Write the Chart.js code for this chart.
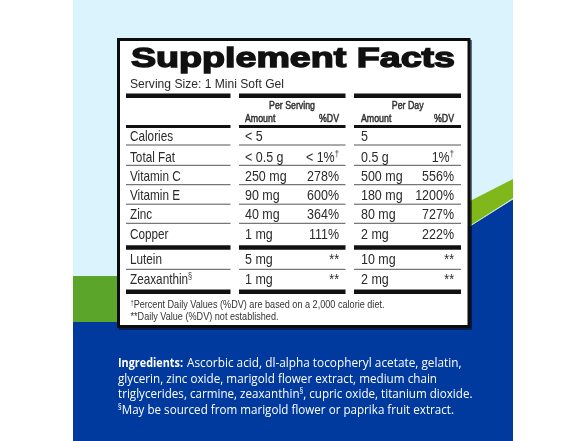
<!DOCTYPE html>
<html lang="en">
<head>
  <meta charset="UTF-8">
  <title>Supplement Facts</title>
  <script src="https://cdn.jsdelivr.net/npm/chart.js"></script>
  <style>
    html, body { margin: 0; padding: 0; background: #fff; }
    canvas { display: block; }
  </style>
</head>
<body>
<canvas id="facts" width="588" height="441"></canvas>

<script>
// table content, {x} marks a superscript
const title = 'Supplement Facts';
const servingSize = 'Serving Size: 1 Mini Soft Gel';
const groupLabels = ['Per Serving', 'Per Day'];
const columnLabels = ['Amount', '%DV'];
const nutrients = ['Calories', 'Total Fat', 'Vitamin C', 'Vitamin E', 'Zinc', 'Copper', 'Lutein', 'Zeaxanthin{§}'];
const servingAmount = ['< 5', '< 0.5 g', '250 mg', '90 mg', '40 mg', '1 mg', '5 mg', '1 mg'];
const servingDV = ['', '< 1%{†}', '278%', '600%', '364%', '111%', '**', '**'];
const dayAmount = ['5', '0.5 g', '500 mg', '180 mg', '80 mg', '2 mg', '10 mg', '2 mg'];
const dayDV = ['', '1%{†}', '556%', '1200%', '727%', '222%', '**', '**'];
const footnotes = ['{†}Percent Daily Values (%DV) are based on a 2,000 calorie diet.', '**Daily Value (%DV) not established.'];
const ingredientsHead = 'Ingredients:';
const ingredients = [
  'Ascorbic acid, dl-alpha tocopheryl acetate, gelatin,',
  'glycerin, zinc oxide, marigold flower extract, medium chain',
  'triglycerides, carmine, zeaxanthin{§}, cupric oxide, titanium dioxide.',
  '{§}May be sourced from marigold flower or paprika fruit extract.'
];

// layout, in picture pixels
const rowBase = [141, 161.5, 180.7, 200, 219, 238.5, 264, 284];
const columns = [[126, 230.5], [239, 345.5], [354, 461]];
const ruleY = [95.7, 126.5, 145, 165.3, 184.7, 204.2, 223.3, 247.5, 269.3, 291.7];
const ruleW = [4.6, 3, 1, 1, 1, 1, 1, 4.6, 1, 4.6];
const footBase = [308, 320];
const footWidth = [254, 148];
const ingBase = [367, 382.7, 398, 414];
const ingRight = [461.5, 437, 472.5, 454];

const lightBlue = '#daf3fc', navy = '#003a9e', leftGreen = '#5aa52a', rightGreen = '#80b81c';

// one horizontal line per rule and column
const ruleSets = [];
ruleY.forEach((y, i) => columns.forEach(c => ruleSets.push({
  data: [{ x: c[0], y: y }, { x: c[1], y: y }],
  showLine: true, pointRadius: 0, borderWidth: ruleW[i],
  borderColor: ruleW[i] > 2 ? '#111' : '#555'
})));

function rich(ctx, str, px, py, o) {
  const parts = str.split(/(\{[^}]*\})/).filter(s => s !== '');
  const font = (s, sup) => `${o.weight || 400} ${sup ? s * 0.62 : s}px ${o.family || '"Liberation Sans"'}`;
  const runs = parts.map(p => {
    const sup = p[0] === '{';
    const t = sup ? p.slice(1, -1) : p;
    ctx.font = font(o.size, sup);
    return { t, sup, w: ctx.measureText(t).width };
  });
  const total = runs.reduce((a, r) => a + r.w, 0);
  const sx = o.width ? o.width / total : (o.sx || 1);
  ctx.save();
  ctx.translate(px, py);
  ctx.scale(sx, 1);
  ctx.fillStyle = o.color || '#2a2a2a';
  ctx.textAlign = 'left';
  ctx.textBaseline = 'alphabetic';
  let x = o.align === 'right' ? -total : o.align === 'center' ? -total / 2 : 0;
  runs.forEach(r => {
    ctx.font = font(o.size, r.sup);
    ctx.fillText(r.t, x, r.sup ? -o.size * 0.33 : 0);
    if (o.stroke) {
      ctx.strokeStyle = ctx.fillStyle;
      ctx.lineWidth = o.stroke;
      ctx.strokeText(r.t, x, r.sup ? -o.size * 0.33 : 0);
    }
    x += r.w;
  });
  ctx.restore();
}

const panelPlugin = {
  id: 'panel',
  beforeDatasetsDraw(chart) {
    const { ctx, scales: { x, y } } = chart;
    const poly = (pts, color) => {
      ctx.fillStyle = color;
      ctx.beginPath();
      pts.forEach((p, i) => i ? ctx.lineTo(x.getPixelForValue(p[0]), y.getPixelForValue(p[1])) : ctx.moveTo(x.getPixelForValue(p[0]), y.getPixelForValue(p[1])));
      ctx.closePath();
      ctx.fill();
    };
    poly([[73, 0], [513, 0], [513, 441], [73, 441]], lightBlue);
    poly([[73, 322], [117, 322], [470, 226], [513, 199], [513, 441], [73, 441]], navy);
    poly([[73, 276], [117, 276], [117, 322], [73, 322]], leftGreen);
    poly([[470, 201], [513, 179], [513, 198], [470, 226]], rightGreen);
    poly([[470, 226.5], [513, 199.5], [513, 198.5], [470, 225.5]], '#d5ecd0');
    poly([[470, 227], [513, 200], [513, 441], [470, 441]], navy);
    poly([[119, 40], [472, 40], [472, 330], [119, 330]], 'rgba(0,0,20,0.55)');
    poly([[117, 38], [470.5, 38], [470.5, 328], [117, 328]], '#0c0c0c');
    poly([[120, 41], [467.5, 41], [467.5, 325], [120, 325]], '#fff');
  },
  afterDatasetsDraw(chart) {
    const { ctx, scales: { x, y } } = chart;
    const put = (s, px, py, o) => rich(ctx, s, x.getPixelForValue(px), y.getPixelForValue(py), o);
    const name = { size: 14.5, sx: 0.81 };
    const value = { size: 14.5, sx: 0.86 };

    put(title, 131, 67, { size: 28, weight: 700, width: 324, color: '#111', stroke: 1.4 });
    put(servingSize, 130, 88, { size: 12.5, width: 154 });

    const head = { size: 11, sx: 0.8, color: '#333', stroke: 0.5 };
    put(groupLabels[0], 292, 109, { ...head, align: 'center' });
    put(groupLabels[1], 407.7, 109, { ...head, align: 'center' });
    put(columnLabels[0], 245, 121.5, head);
    put(columnLabels[1], 339, 121.5, { ...head, align: 'right' });
    put(columnLabels[0], 361, 121.5, head);
    put(columnLabels[1], 454, 121.5, { ...head, align: 'right' });

    nutrients.forEach((n, i) => {
      put(n, 130, rowBase[i], name);
      put(servingAmount[i], 245, rowBase[i], value);
      put(servingDV[i], 339, rowBase[i], { ...value, align: 'right' });
      put(dayAmount[i], 361, rowBase[i], value);
      put(dayDV[i], 454, rowBase[i], { ...value, align: 'right' });
    });

    footnotes.forEach((f, i) => put(f, 130.5, footBase[i], { size: 10.5, width: footWidth[i], color: '#333' }));

    const ing = { family: '"Open Sans"', size: 13, color: '#fff' };
    put(ingredientsHead, 118, ingBase[0], { ...ing, weight: 700, width: 65 });
    ingredients.forEach((l, i) => {
      const left = i === 0 ? 187 : 118;
      put(l, left, ingBase[i], { ...ing, width: ingRight[i] - left });
    });
  }
};

new Chart(document.getElementById('facts'), {
  type: 'scatter',
  data: { datasets: ruleSets },
  options: {
    responsive: false,
    animation: false,
    devicePixelRatio: 1,
    layout: { padding: 0 },
    plugins: { legend: { display: false }, tooltip: { enabled: false }, title: { display: false } },
    scales: {
      x: { type: 'linear', display: false, min: 0, max: 588 },
      y: { type: 'linear', display: false, min: 0, max: 441, reverse: true }
    }
  },
  plugins: [panelPlugin]
});
</script>
</body>
</html>
